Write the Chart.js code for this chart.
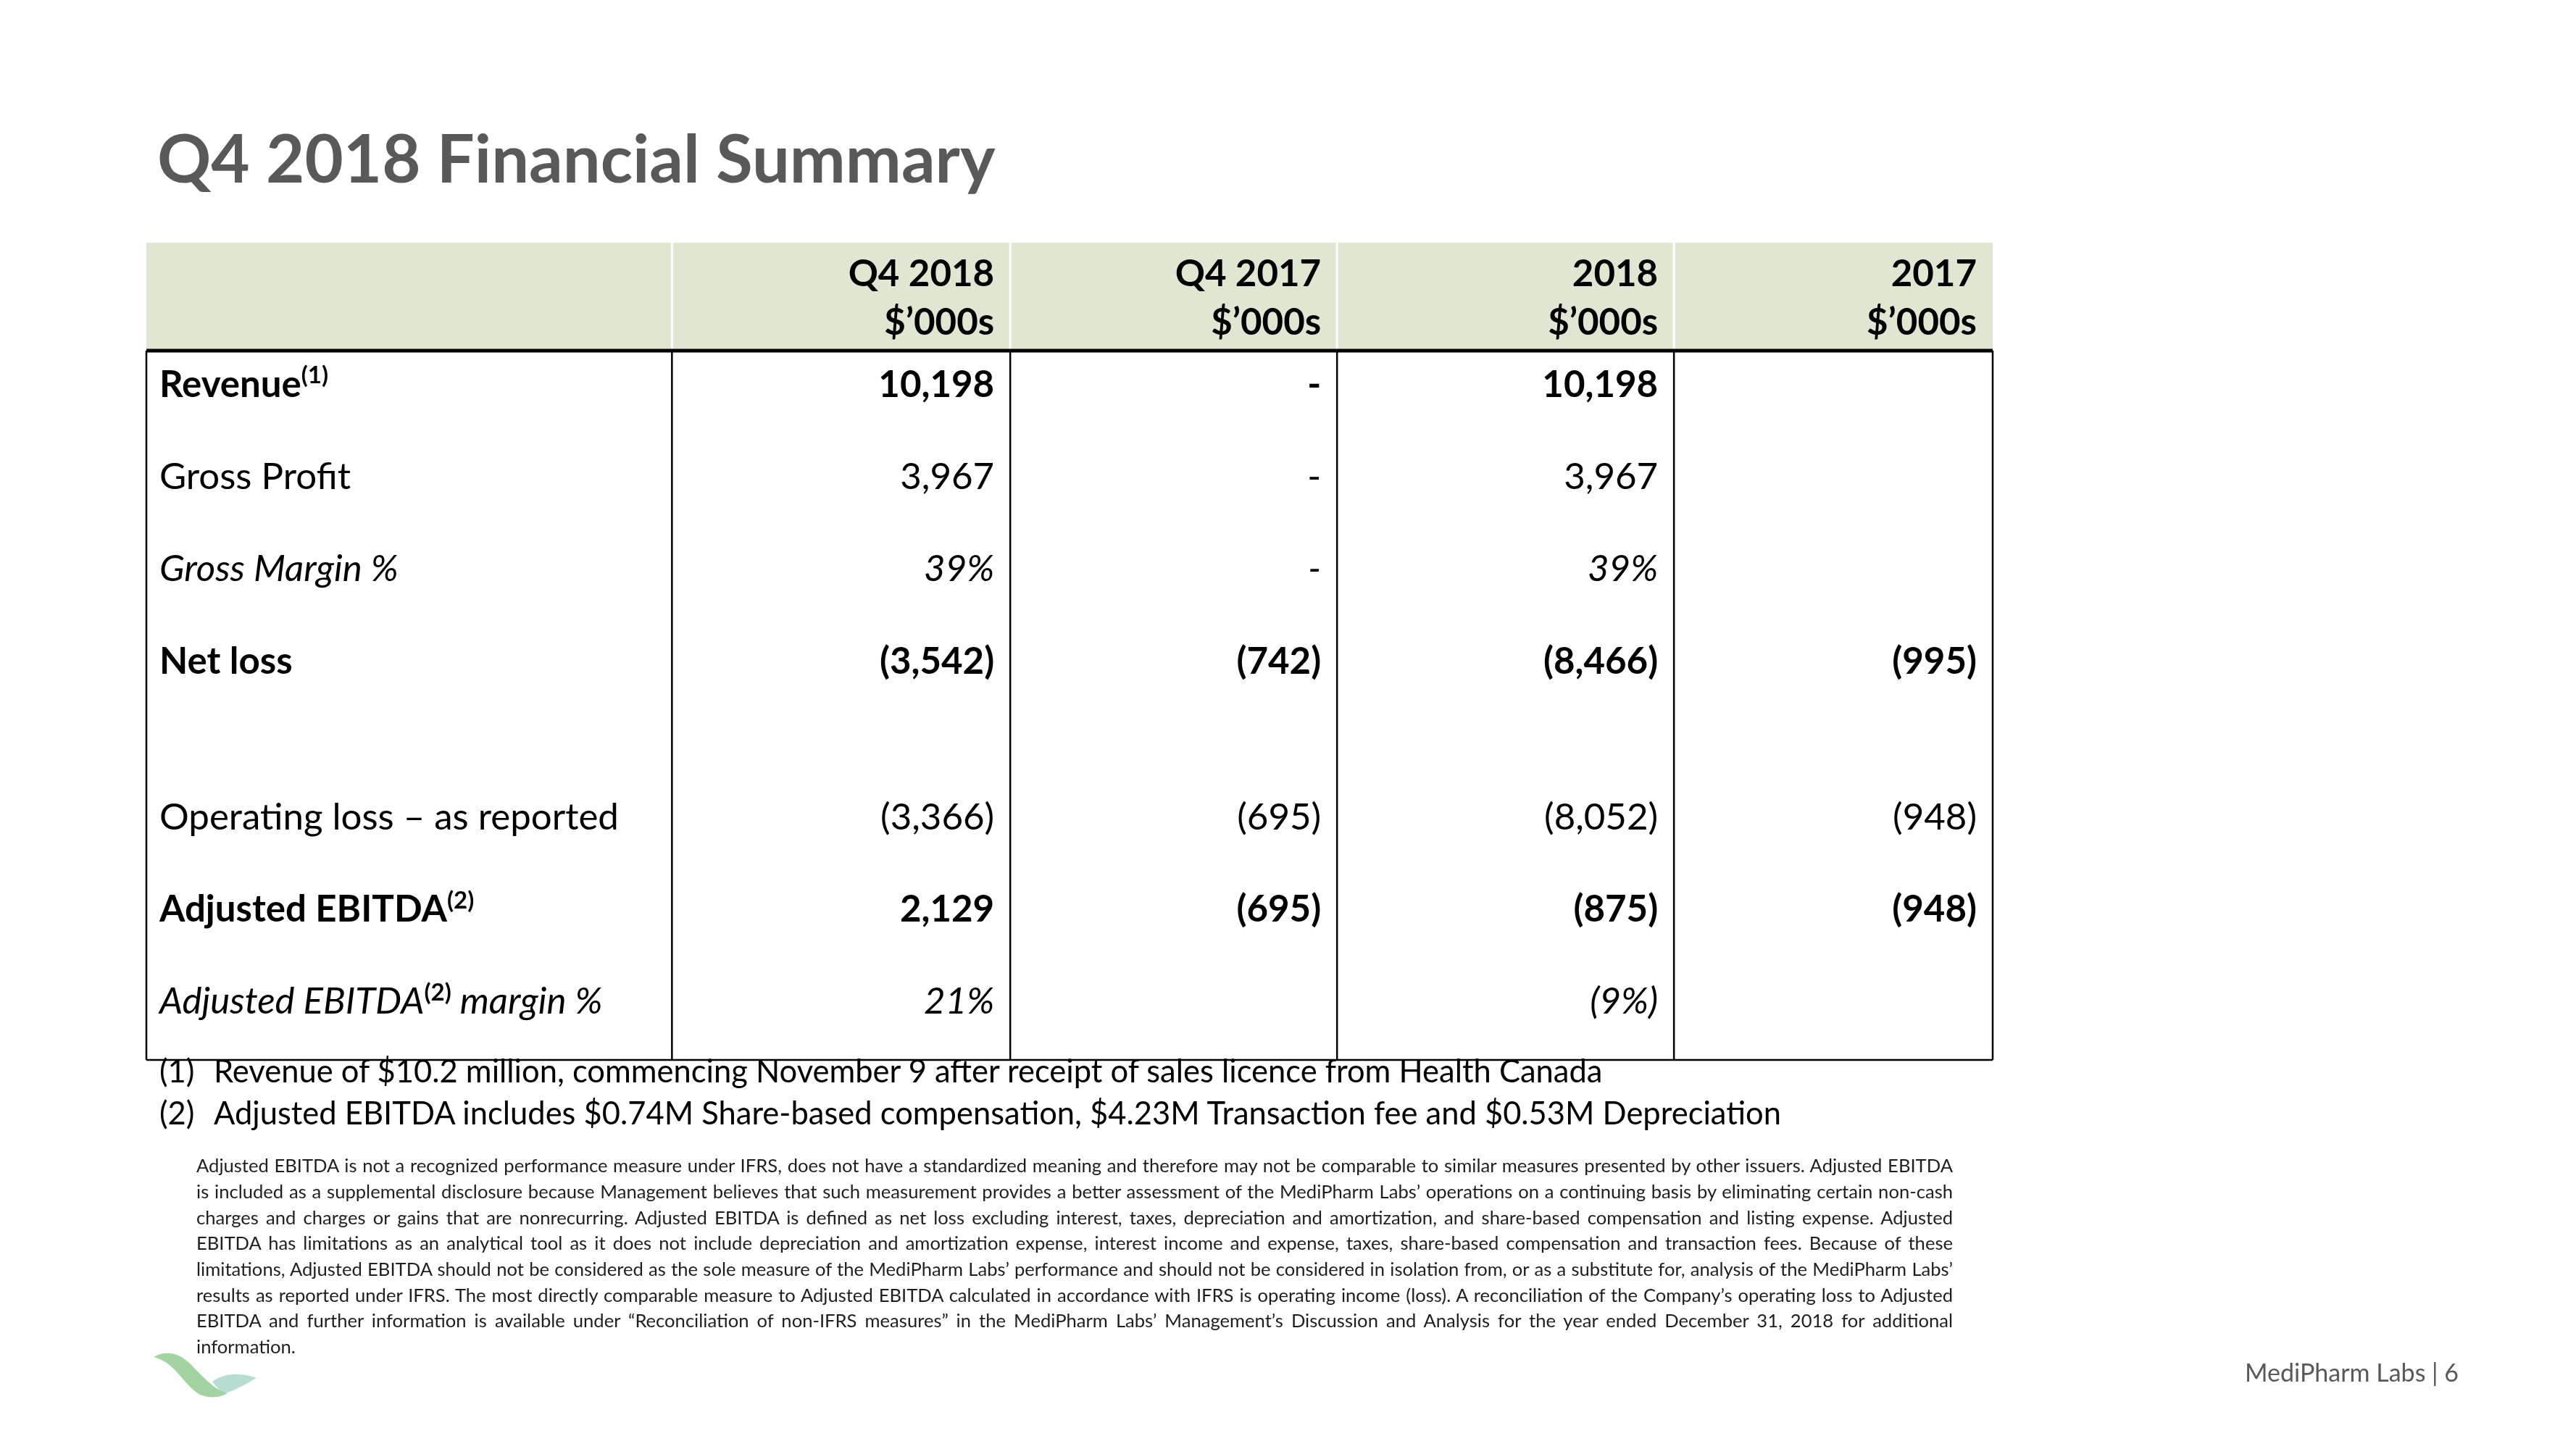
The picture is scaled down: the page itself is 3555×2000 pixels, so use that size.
<!DOCTYPE html>
<html>
<head>
<meta charset="utf-8">
<script src="https://cdn.jsdelivr.net/npm/chart.js@4.4.1/dist/chart.umd.min.js"></script>
<style>
  html, body { margin: 0; padding: 0; background: #fff; }
  #page { position: relative; width: 3555px; height: 2000px; overflow: hidden; font-family: Lato, "Open Sans", sans-serif; }
  #table { position: absolute; left: 0; top: 0; }
  .t { position: absolute; white-space: nowrap; line-height: 1; }
  .title { left: 217px; top: 171px; font-size: 92px; font-weight: bold; color: #595959; }
  .fn { left: 220px; font-size: 43.5px; color: #000; }
  .fn span { position: absolute; left: 75px; }
  .disc { position: absolute; left: 271px; top: 1589px; width: 2424px; font-size: 21px; line-height: 35.7px; color: #1e1e1e; }
  .disc div { text-align: justify; text-align-last: justify; white-space: nowrap; }
  .disc div.last { text-align-last: left; }
  .foot { right: 162px; top: 1877px; font-size: 34px; color: #595959; }
  svg { position: absolute; left: 200px; top: 1860px; }
</style>
</head>
<body>
<div id="page">
  <canvas id="table" width="3555" height="2000"></canvas>
  <div class="t title">Q4 2018 Financial Summary</div>
  <div class="t fn" style="top:1456px">(1)<span>Revenue of $10.2 million, commencing November 9 after receipt of sales licence from Health Canada</span></div>
  <div class="t fn" style="top:1514px">(2)<span>Adjusted EBITDA includes $0.74M Share-based compensation, $4.23M Transaction fee and $0.53M Depreciation</span></div>
  <div class="disc" id="disc">
    <div>Adjusted EBITDA is not a recognized performance measure under IFRS, does not have a standardized meaning and therefore may not be comparable to similar measures presented by other issuers. Adjusted EBITDA</div>
    <div>is included as a supplemental disclosure because Management believes that such measurement provides a better assessment of the MediPharm Labs’ operations on a continuing basis by eliminating certain non-cash</div>
    <div>charges and charges or gains that are nonrecurring. Adjusted EBITDA is defined as net loss excluding interest, taxes, depreciation and amortization, and share-based compensation and listing expense. Adjusted</div>
    <div>EBITDA has limitations as an analytical tool as it does not include depreciation and amortization expense, interest income and expense, taxes, share-based compensation and transaction fees. Because of these</div>
    <div>limitations, Adjusted EBITDA should not be considered as the sole measure of the MediPharm Labs’ performance and should not be considered in isolation from, or as a substitute for, analysis of the MediPharm Labs’</div>
    <div>results as reported under IFRS. The most directly comparable measure to Adjusted EBITDA calculated in accordance with IFRS is operating income (loss). A reconciliation of the Company’s operating loss to Adjusted</div>
    <div>EBITDA and further information is available under “Reconciliation of non-IFRS measures” in the MediPharm Labs’ Management’s Discussion and Analysis for the year ended December 31, 2018 for additional</div>
    <div class="last">information.</div>
  </div>
  <svg width="170" height="80" viewBox="0 0 170 80">
    <path d="M93,47 C105,38 125,32 154,42 C140,50 124,60 107,64 Z" fill="#b7ddd3"/>
    <path d="M12,13 C28,4 46,6 62,22 C80,40 95,58 114,63 C102,70 88,70 76,65 C60,56 50,38 36,26 C28,19 20,15 12,13 Z" fill="#a3d3a1"/>
  </svg>
  <div class="t foot">MediPharm Labs | 6</div>
</div>

<script>
// Table content
const rowLabels = ['Revenue|(1)', 'Gross Profit', 'Gross Margin %', 'Net loss', '', 'Operating loss – as reported', 'Adjusted EBITDA|(2)', 'Adjusted EBITDA|(2)| margin %'];
const rowStyles = ['bold', 'normal', 'italic', 'bold', 'normal', 'normal', 'bold', 'italic'];
const rowKinds = ['num', 'num', 'pct', 'num', 'num', 'num', 'num', 'pct'];
const columnHeads = [['Q4 2018', '$’000s'], ['Q4 2017', '$’000s'], ['2018', '$’000s'], ['2017', '$’000s']];

// $'000s, null = empty cell, 0 = dash
const q4_2018 = [10198, 3967, 0.39, -3542, null, -3366, 2129, 0.21];
const q4_2017 = [0, 0, 0, -742, null, -695, -695, null];
const fy_2018 = [10198, 3967, 0.39, -8466, null, -8052, -875, -0.09];
const fy_2017 = [null, null, null, -995, null, -948, -948, null];
const columns = [q4_2018, q4_2017, fy_2018, fy_2017];

// layout
const colWidths = [1.56, 1.004, 0.97, 1.0, 0.946];
const rowSpans = [1, 1, 1, 1, 0.69, 1, 1, 1];
const HEAD_TOP = -1.17;
const HEAD_LINES = [-0.70, -0.175];
const FONT = 'Lato, "Open Sans", sans-serif';
const FS = 51;

const colEdges = [0];
colWidths.forEach(w => colEdges.push(colEdges[colEdges.length - 1] + w));
const rowBase = [];
let acc = 0;
rowSpans.forEach(s => { rowBase.push(acc + 0.5); acc += s; });
const BODY_END = acc;

function fmt(v, kind) {
    if (v === null) return '';
    if (v === 0) return '-';
    let s;
    if (kind === 'pct') s = Math.round(Math.abs(v) * 100) + '%';
    else s = Math.abs(v).toLocaleString('en-US');
    return v < 0 ? '(' + s + ')' : s;
}

function fontFor(style, size) {
    if (style === 'bold') return 'bold ' + size + 'px ' + FONT;
    if (style === 'italic') return 'italic ' + size + 'px ' + FONT;
    return size + 'px ' + FONT;
}

// fit the small print so the widest line just fills the block
(function () {
    const disc = document.getElementById('disc');
    const lines = Array.from(disc.children).filter(d => !d.classList.contains('last'));
    const m = document.createElement('canvas').getContext('2d');
    m.font = '100px ' + FONT;
    let widest = 0;
    lines.forEach(d => { widest = Math.max(widest, m.measureText(d.textContent.trim()).width); });
    const fs = Math.floor(100 * 2424 / widest * 0.995 * 10) / 10;
    const lh = 35.7;
    disc.style.fontSize = fs + 'px';
    disc.style.top = (1619 - ((lh - 1.2 * fs) / 2 + 0.987 * fs)) + 'px';
})();

const datasets = [{
    label: 'labels',
    data: rowLabels.map((t, i) => ({x: colEdges[0], y: rowBase[i]}))
}];
columns.forEach((col, k) => {
    datasets.push({
        label: columnHeads[k][0],
        data: col.map((v, i) => ({x: colEdges[k + 2], y: rowBase[i]}))
    });
});

const tablePlugin = {
    id: 'tableDraw',
    beforeDatasetsDraw(chart) {
        const {ctx, scales: {x, y}} = chart;
        const left = x.getPixelForValue(0);
        const right = x.getPixelForValue(colEdges[colEdges.length - 1]);
        const headTop = y.getPixelForValue(HEAD_TOP);
        const bodyTop = y.getPixelForValue(0);
        const bodyBottom = y.getPixelForValue(BODY_END);
        ctx.save();
        ctx.fillStyle = '#dfe7d3';
        ctx.fillRect(left, headTop, right - left, bodyTop - headTop);

        // header separators
        ctx.strokeStyle = '#ffffff';
        ctx.lineWidth = 3;
        colEdges.slice(1, -1).forEach(e => {
            const px = x.getPixelForValue(e);
            ctx.beginPath();
            ctx.moveTo(px, headTop);
            ctx.lineTo(px, bodyTop);
            ctx.stroke();
        });

        // body grid
        ctx.strokeStyle = '#000';
        ctx.lineWidth = 2.5;
        colEdges.forEach(e => {
            const px = x.getPixelForValue(e);
            ctx.beginPath();
            ctx.moveTo(px, bodyTop);
            ctx.lineTo(px, bodyBottom);
            ctx.stroke();
        });
        ctx.beginPath();
        ctx.moveTo(left, bodyBottom);
        ctx.lineTo(right, bodyBottom);
        ctx.stroke();
        ctx.lineWidth = 5;
        ctx.beginPath();
        ctx.moveTo(left, bodyTop);
        ctx.lineTo(right, bodyTop);
        ctx.stroke();

        // header text
        ctx.fillStyle = '#000';
        ctx.textAlign = 'right';
        ctx.textBaseline = 'alphabetic';
        ctx.font = fontFor('bold', FS);
        columnHeads.forEach((h, k) => {
            const px = x.getPixelForValue(colEdges[k + 2]) - 22;
            h.forEach((line, j) => ctx.fillText(line, px, y.getPixelForValue(HEAD_LINES[j])));
        });
        ctx.restore();
    },
    afterDatasetsDraw(chart) {
        const ctx = chart.ctx;
        ctx.save();
        ctx.fillStyle = '#000';
        ctx.textBaseline = 'alphabetic';

        // labels column
        chart.getDatasetMeta(0).data.forEach((pt, i) => {
            const parts = rowLabels[i].split('|');
            let px = pt.x + 18;
            ctx.textAlign = 'left';
            parts.forEach((p, j) => {
                if (j % 2 === 1) {
                    ctx.font = fontFor('bold', Math.round(FS * 0.64));
                    ctx.fillText(p, px, pt.y - FS * 0.36);
                } else {
                    ctx.font = fontFor(rowStyles[i], FS);
                    ctx.fillText(p, px, pt.y);
                }
                px += ctx.measureText(p).width;
            });
        });

        // value columns
        ctx.textAlign = 'right';
        columns.forEach((col, k) => {
            chart.getDatasetMeta(k + 1).data.forEach((pt, i) => {
                ctx.font = fontFor(rowStyles[i], FS);
                ctx.fillText(fmt(col[i], rowKinds[i]), pt.x - 22, pt.y);
            });
        });
        ctx.restore();
    }
};

new Chart(document.getElementById('table'), {
    type: 'scatter',
    data: {datasets: datasets},
    options: {
        responsive: false,
        animation: false,
        devicePixelRatio: 1,
        events: [],
        layout: {
            padding: {left: 202, right: 805, top: 335, bottom: 537}
        },
        elements: {
            point: {radius: 0, hoverRadius: 0}
        },
        plugins: {
            legend: {display: false},
            tooltip: {enabled: false}
        },
        scales: {
            x: {type: 'linear', min: 0, max: colEdges[colEdges.length - 1], display: false},
            y: {type: 'linear', min: HEAD_TOP, max: BODY_END, reverse: true, display: false}
        }
    },
    plugins: [tablePlugin]
});
</script>
</body>
</html>
